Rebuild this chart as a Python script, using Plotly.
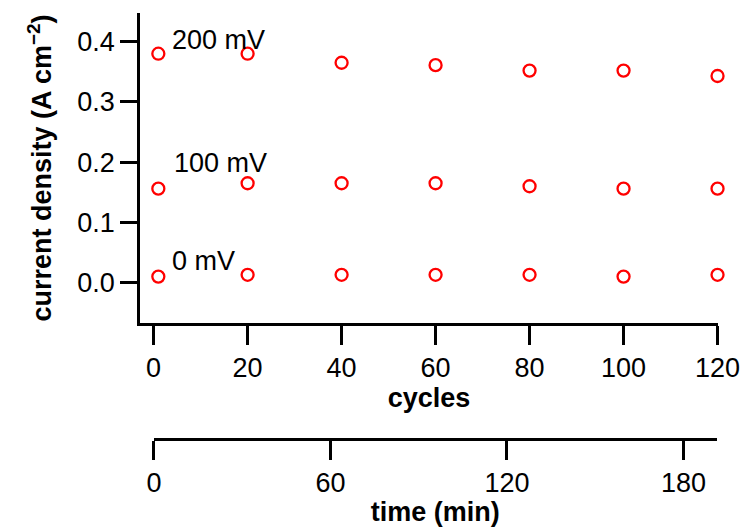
import plotly.graph_objects as go

cycles = [1, 20, 40, 60, 80, 100, 120]
j_200mV = [0.380, 0.380, 0.365, 0.361, 0.352, 0.352, 0.343]
j_100mV = [0.156, 0.165, 0.165, 0.165, 0.160, 0.156, 0.156]
j_0mV = [0.010, 0.013, 0.013, 0.013, 0.013, 0.010, 0.013]
series_labels = ["200 mV", "100 mV", "0 mV"]
x_ticks = [0, 20, 40, 60, 80, 100, 120]
y_ticks = [0.0, 0.1, 0.2, 0.3, 0.4]
y_tick_text = ["0.0", "0.1", "0.2", "0.3", "0.4"]
time_ticks = [0, 60, 120, 180]

FONT = "Liberation Sans, Arial, Helvetica, sans-serif"
FS = 27
RED = "#ff0000"

fig = go.Figure()
all_series = [j_200mV, j_100mV, j_0mV]

# invisible carrier trace so the time axis is drawn
fig.add_trace(go.Scatter(x=time_ticks, y=[None] * len(time_ticks),
                         mode="markers", xaxis="x2", yaxis="y",
                         showlegend=False, hoverinfo="skip",
                         marker=dict(opacity=0)))

for name, ys in zip(series_labels, all_series):
    fig.add_trace(go.Scatter(
        x=cycles, y=ys, mode="markers", name=name, cliponaxis=False,
        marker=dict(symbol="circle-open", size=12, color=RED,
                    line=dict(width=2.3, color=RED)),
        showlegend=False, xaxis="x", yaxis="y"))

# label shifts (pixels) relative to the first point of each series
shifts = [(12, 13.5), (13.5, 26), (12, 15.5)]
for name, ys, (dx, dy) in zip(series_labels, all_series, shifts):
    fig.add_annotation(x=cycles[0], y=ys[0], xref="x", yref="y", text=name,
                       showarrow=False, xanchor="left", yanchor="middle",
                       xshift=dx, yshift=dy,
                       font=dict(family=FONT, size=FS, color="black"))

axis_common = dict(showline=True, linecolor="black", linewidth=2.5,
                   ticks="outside", tickwidth=2.5, tickcolor="black",
                   showgrid=False, zeroline=False, automargin=False,
                   tickfont=dict(family=FONT, size=FS, color="black"))

fig.update_layout(
    width=745, height=527,
    margin=dict(l=140, r=27, t=13, b=88),
    paper_bgcolor="white", plot_bgcolor="rgba(0,0,0,0)",
    font=dict(family=FONT, size=FS, color="black"),
    xaxis=dict(range=[-2.9, 120.1], domain=[0, 1], anchor="y",
               tickvals=x_ticks, ticklen=19,
               title=dict(text="<b>cycles</b>", standoff=5,
                          font=dict(family=FONT, size=FS)),
               **axis_common),
    yaxis=dict(range=[-0.067, 0.4476], domain=[0.2723, 1], anchor="x",
               tickvals=y_ticks, ticktext=y_tick_text, ticklen=17,
               title=dict(text="<b>current density (A cm<sup>−2</sup>)</b>",
                          standoff=18, font=dict(family=FONT, size=FS)),
               **axis_common),
    xaxis2=dict(range=[0, 191.3], domain=[0.0242, 0.9978], anchor="free",
                position=0, tickvals=time_ticks, ticklen=19,
                title=dict(text="<b>time (min)</b>", standoff=3,
                           font=dict(family=FONT, size=FS)),
                **axis_common),
)

fig.write_html("out.html", post_script="document.body.style.margin='0';",
               config={"displayModeBar": False})
